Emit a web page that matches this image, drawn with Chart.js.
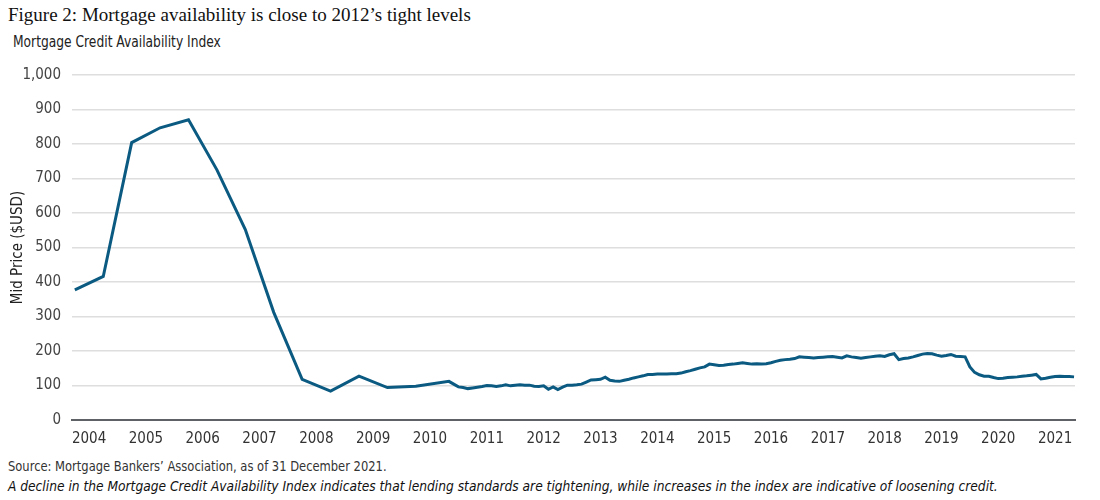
<!DOCTYPE html>
<html>
<head>
<meta charset="utf-8">
<script src="https://cdn.jsdelivr.net/npm/chart.js@4.4.1/dist/chart.umd.min.js"></script>
<style>
    body { margin: 0; background: #fff; width: 1100px; height: 500px; position: relative; overflow: hidden; }
    .txt { position: absolute; white-space: nowrap; transform-origin: left top; }
    #title { left: 8px; top: 4px; font-family: "Liberation Serif", "DejaVu Serif", serif; font-size: 19px; color: #111; }
    #subtitle { left: 13px; top: 33px; font-family: "DejaVu Sans Condensed", Roboto, sans-serif; font-size: 15px; color: #222; transform: scaleX(0.91); }
    #source { left: 8px; top: 458px; font-family: "DejaVu Sans Condensed", Roboto, sans-serif; font-size: 14px; color: #333; transform: scaleX(0.915); }
    #note { left: 8px; top: 478px; font-family: "DejaVu Sans Condensed", Roboto, sans-serif; font-size: 14.5px; font-style: italic; color: #111; transform: scaleX(0.94); }
    #wrap { position: absolute; left: 0; top: 55px; width: 1100px; height: 400px; }
</style>
</head>
<body>
<div class="txt" id="title">Figure 2: Mortgage availability is close to 2012’s tight levels</div>
<div class="txt" id="subtitle">Mortgage Credit Availability Index</div>
<div id="wrap"><canvas id="myChart"></canvas></div>
<div class="txt" id="source">Source: Mortgage Bankers’ Association, as of 31 December 2021.</div>
<div class="txt" id="note">A decline in the Mortgage Credit Availability Index indicates that lending standards are tightening, while increases in the index are indicative of loosening credit.</div>
<script>
// year labels on the x axis
var yearLabels = [2004, 2005, 2006, 2007, 2008, 2009, 2010, 2011, 2012, 2013, 2014, 2015, 2016, 2017, 2018, 2019, 2020, 2021];

// early readings, every half year
var halfYearStart = 2003.75;
var halfYearValues = [377, 416, 804, 847, 870, 725, 552, 312, 118, 84, 127, 94, 98];

// monthly readings afterwards
var monthlyStart = 2010.25;
var monthlyValues = [
    119, 112, 104, 96, 94, 91, 93, 95, 97, 100, 99, 97,
    99, 102, 99, 101, 102, 101, 101, 98, 97, 99, 89, 96,
    88, 95, 101, 101, 102, 104, 110, 116, 117, 118, 124, 115,
    113, 112, 115, 118, 122, 125, 128, 132, 132, 133, 133, 133,
    134, 134, 136, 140, 143, 147, 151, 154, 162, 160, 158, 159,
    161, 162, 164, 166, 164, 162, 163, 162, 163, 166, 170, 173,
    175, 176, 178, 183, 182, 181, 180, 181, 182, 183, 184, 182,
    180, 186, 183, 181, 179, 181, 183, 185, 186, 184, 189, 192,
    175, 178, 180, 183, 187, 191, 193, 192, 188, 185, 187, 190,
    185, 184, 183, 154, 138, 131, 127, 127, 123, 120, 121, 123,
    124, 125, 127, 128, 130, 132, 119, 121, 124, 126, 127, 126,
    126, 125
];

function buildPoints() {
    var pts = [];
    for (var i = 0; i < halfYearValues.length; i++) {
        pts.push({ x: halfYearStart + i * 0.5, y: halfYearValues[i] });
    }
    for (var j = 1; j < monthlyValues.length; j++) {
        pts.push({ x: monthlyStart + j / 12, y: monthlyValues[j] });
    }
    return pts;
}

var axisFont = { family: '"DejaVu Sans Condensed", Roboto, sans-serif', size: 15 };

var ctx = document.getElementById('myChart').getContext('2d');
var chart = new Chart(ctx, {
    type: 'line',
    data: {
        datasets: [{
            data: buildPoints(),
            borderColor: '#0b5a82',
            borderWidth: 3,
            pointRadius: 0,
            fill: false,
            tension: 0
        }]
    },
    options: {
        responsive: true,
        maintainAspectRatio: false,
        animation: false,
        layout: { padding: { left: 0, right: 25, top: 18, bottom: 0 } },
        plugins: {
            legend: { display: false },
            tooltip: { enabled: false }
        },
        scales: {
            x: {
                type: 'linear',
                min: 2003.70,
                max: 2021.35,
                afterBuildTicks: function (scale) {
                    scale.ticks = yearLabels.map(function (v) { return { value: v }; });
                },
                afterFit: function (scale) { scale.height = 35; },
                ticks: {
                    font: axisFont,
                    color: '#333',
                    padding: 10,
                    maxRotation: 0,
                    autoSkip: false,
                    callback: function (v) { return String(v); }
                },
                grid: { display: false, drawTicks: false },
                border: { display: true, color: '#5e6166', width: 2 }
            },
            y: {
                min: 0,
                max: 1000,
                afterFit: function (scale) { scale.width = 72; },
                ticks: {
                    stepSize: 100,
                    font: axisFont,
                    color: '#444',
                    padding: 11,
                    callback: function (v) { return v.toLocaleString('en-US'); }
                },
                grid: { color: '#dedede', lineWidth: 1.5, drawTicks: false },
                border: { display: false },
                title: {
                    display: true,
                    text: 'Mid Price ($USD)',
                    font: axisFont,
                    color: '#222',
                    padding: { top: 9, bottom: 0 }
                }
            }
        }
    }
});
</script>
</body>
</html>
